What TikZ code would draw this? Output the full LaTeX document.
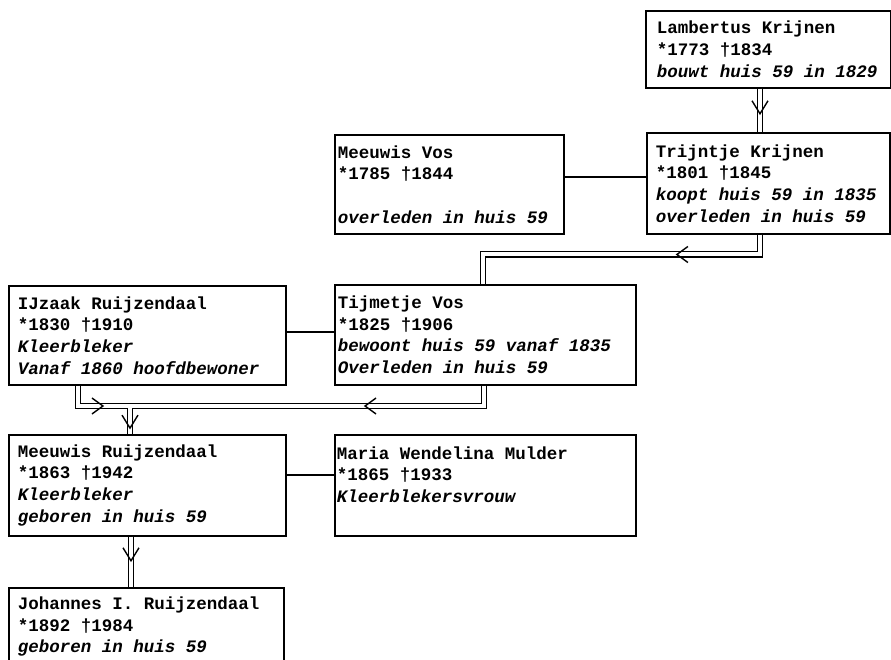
\documentclass[tikz,border=0pt]{standalone}
\usepackage{fontspec}
\setmonofont{Liberation Mono}
\newcommand{\fixsp}{\spaceskip=10.5pt\xspaceskip=10.5pt\relax}
\newcommand{\famfont}{\ttfamily\bfseries\fontsize{17.5}{21.7}\selectfont}
\newcommand{\fit}[1]{\textit{#1}}
\begin{document}
\begin{tikzpicture}[x=1pt,y=-1pt,
  famb/.style={draw, line width=1.6pt, anchor=north west, align=left, inner ysep=0pt,
    font={\famfont}},
  dbl/.style={draw, line width=1.3pt, double distance=4pt, line join=miter},
  single/.style={draw, line width=1.6pt},
  tipv/.style={draw, line width=1.4pt}]
\useasboundingbox (0,0) rectangle (891,660);
\clip (0,0) rectangle (891,660);

% boxes
\node[famb, inner xsep=11pt, text width=223pt, minimum height=77pt] (lamb) at (645,10)
  {\fixsp Lambertus Krijnen\\{*}1773 †1834\\\fit{bouwt huis 59 in 1829}};
\node[famb, inner xsep=9pt, text width=225pt, minimum height=101pt] (trijn) at (646,132)
  {\fixsp Trijntje Krijnen\\{*}1801 †1845\\\fit{koopt huis 59 in 1835}\\\fit{overleden in huis 59}};
\node[famb, inner xsep=3pt, text width=223pt, minimum height=99pt] (mvos) at (334,134)
  {\fixsp Meeuwis Vos\\{*}1785 †1844\\\mbox{}\\\fit{overleden in huis 59}};
\node[famb, inner xsep=3pt, text width=295pt, minimum height=100pt] (tijm) at (334,284)
  {\fixsp Tijmetje Vos\\{*}1825 †1906\\\fit{bewoont huis 59 vanaf 1835}\\\fit{Overleden in huis 59}};
\node[famb, inner xsep=9pt, text width=259pt, minimum height=99pt] (ijz) at (8,285)
  {\fixsp IJzaak Ruijzendaal\\{*}1830 †1910\\\fit{Kleerbleker}\\\fit{Vanaf 1860 hoofdbewoner}};
\node[famb, inner xsep=9pt, text width=259pt, minimum height=101pt] (mr) at (8,434)
  {\fixsp Meeuwis Ruijzendaal\\{*}1863 †1942\\\fit{Kleerbleker}\\\fit{geboren in huis 59}};
\node[famb, inner xsep=2pt, text width=297pt, minimum height=101pt] (maria) at (334,434)
  {\fixsp Maria Wendelina Mulder\\{*}1865 †1933\\\fit{Kleerblekersvrouw}\\\mbox{}};
\node[famb, inner xsep=9pt, text width=257pt, minimum height=78pt] (joh) at (8,587)
  {\fixsp Johannes I. Ruijzendaal\\{*}1892 †1984\\\fit{geboren in huis 59}};

% helper coordinates
\coordinate (c760) at (760,0);
\coordinate (c483) at (483,0);
\coordinate (c484) at (484,0);
\coordinate (c78) at (78,0);
\coordinate (c130) at (130,0);
\coordinate (c131) at (131,0);
\coordinate (h1) at (0,254.5);
\coordinate (h2) at (0,406);
\coordinate (s1) at (0,177);
\coordinate (s2) at (0,332);
\coordinate (s3) at (0,475);

% marriage lines
\draw[single] (mvos.east |- s1) -- (trijn.west |- s1);
\draw[single] (ijz.east |- s2) -- (tijm.west |- s2);
\draw[single] (mr.east |- s3) -- (maria.west |- s3);

% descent lines
\draw[dbl] (lamb.south -| c760) -- coordinate[pos=0.58] (a1) (trijn.north -| c760);
\draw[dbl] (trijn.south -| c760) -- (c760 |- h1) -- coordinate[pos=0.30] (a2) (c483 |- h1)
  -- (tijm.north -| c483);
\draw[dbl] (ijz.south -| c78) -- (c78 |- h2) -- coordinate[pos=0.48] (a3) (c130 |- h2)
  -- coordinate[pos=0.79] (a5) (mr.north -| c130)
  (tijm.south -| c484) -- (c484 |- h2) -- coordinate[pos=0.336] (a4) (c130 |- h2)
  -- (mr.north -| c130);
\draw[dbl] (mr.south -| c131) -- coordinate[pos=0.48] (a6) (joh.north -| c131);

% arrow tips
\draw[tipv] ([shift={(-8,-13)}]a1) -- (a1) -- ([shift={(8,-13)}]a1);
\draw[tipv] ([shift={(11,-8)}]a2) -- (a2) -- ([shift={(11,8)}]a2);
\draw[tipv] ([shift={(-11,-8)}]a3) -- (a3) -- ([shift={(-11,8)}]a3);
\draw[tipv] ([shift={(11,-8)}]a4) -- (a4) -- ([shift={(11,8)}]a4);
\draw[tipv] ([shift={(-8,-13)}]a5) -- (a5) -- ([shift={(8,-13)}]a5);
\draw[tipv] ([shift={(-8,-13)}]a6) -- (a6) -- ([shift={(8,-13)}]a6);
\end{tikzpicture}
\end{document}
